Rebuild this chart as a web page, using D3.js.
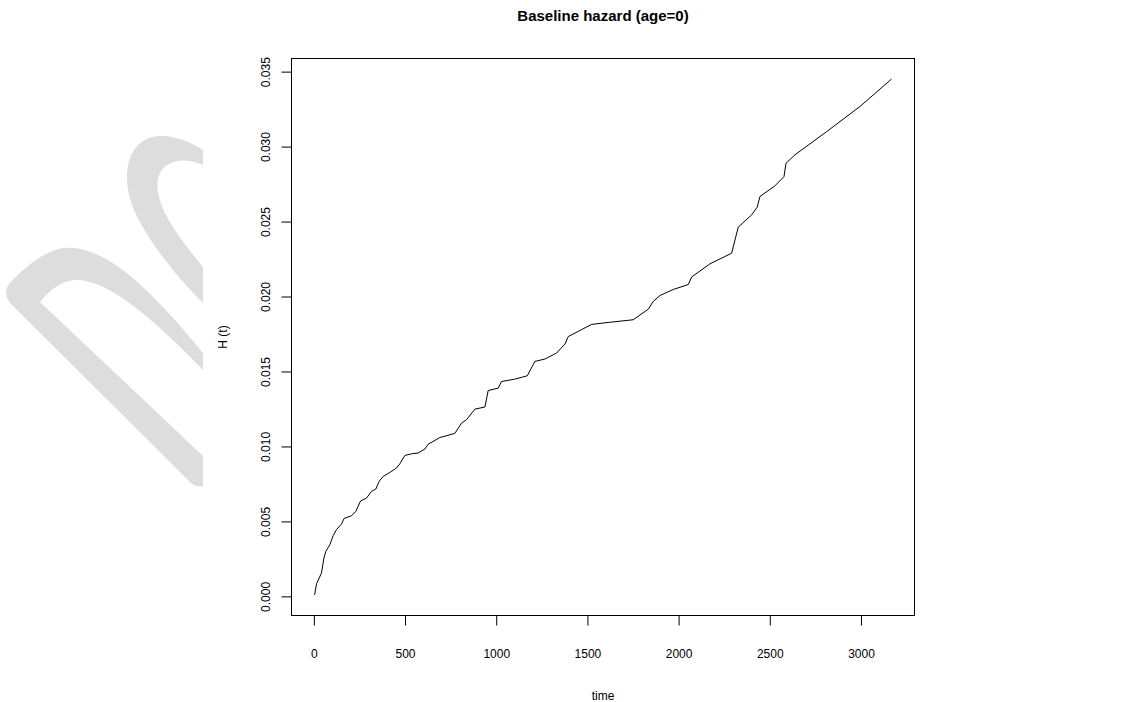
<!DOCTYPE html>
<html>
<head>
<meta charset="utf-8">
<script src="https://cdn.jsdelivr.net/npm/d3@7"></script>
<style>
  html, body { margin: 0; padding: 0; background: #ffffff; }
  svg { display: block; }
  text { font-family: "Liberation Sans", Arial, sans-serif; fill: #000; }
</style>
</head>
<body>
<svg id="chart" width="1135" height="702"></svg>
<script>
// Cumulative baseline hazard H(t) at age = 0
const time = [4, 15, 42, 55, 66, 88, 106, 124, 152, 166, 207, 230, 256, 289, 316, 340,
  358, 380, 417, 453, 472, 499, 536, 572, 609, 627, 654, 691, 709, 773, 810, 837,
  883, 938, 956, 1011, 1029, 1102, 1170, 1212, 1267, 1331, 1377, 1395, 1523, 1614,
  1751, 1834, 1861, 1898, 1971, 2053, 2072, 2172, 2291, 2327, 2401, 2431, 2446,
  2528, 2578, 2589, 2638, 2812, 2994, 3167];
const hazard = [0.0001, 0.00085, 0.00156, 0.00256, 0.0030, 0.00345, 0.00405, 0.00445,
  0.00483, 0.0052, 0.00538, 0.00567, 0.00636, 0.00656, 0.0070, 0.00716, 0.00767,
  0.0080, 0.00827, 0.00856, 0.00885, 0.0094, 0.00951, 0.00956, 0.00983, 0.01015,
  0.01033, 0.0106, 0.01065, 0.01087, 0.01156, 0.01178, 0.01249, 0.01263, 0.01373,
  0.01389, 0.01433, 0.01449, 0.01471, 0.01567, 0.01583, 0.01623, 0.01683, 0.01733,
  0.01814, 0.01827, 0.01845, 0.01916, 0.01967, 0.02007, 0.02047, 0.0208, 0.02131,
  0.02218, 0.02289, 0.02463, 0.02545, 0.02596, 0.02667, 0.02738, 0.028, 0.02889,
  0.02945, 0.031, 0.03267, 0.0345];

const xTicks = [0, 500, 1000, 1500, 2000, 2500, 3000];
const yTicks = [0, 0.005, 0.010, 0.015, 0.020, 0.025, 0.030, 0.035];

const titleText = "Baseline hazard (age=0)";
const xLabel = "time";
const yLabel = "H (t)";

const svg = d3.select("#chart");

// plotting region (base-graphics style box)
const box = { left: 291.5, right: 914.5, top: 58.5, bottom: 615.5 };

// axis limits padded by 4% on each side of the data range
function padded(ext) {
  const r = ext[1] - ext[0];
  return [ext[0] - 0.04 * r, ext[1] + 0.04 * r];
}

const x = d3.scaleLinear().domain(padded(d3.extent(time))).range([box.left, box.right]);
const y = d3.scaleLinear().domain(padded(d3.extent(hazard))).range([box.bottom, box.top]);

// decorative grey mark on the left
const mark = svg.append("g").attr("fill", "#dddddd");
mark.append("path").attr("d",
  "M203,150 C185,138 155,128 138,145 C122,162 124,195 140,222 C155,250 180,280 203,303 " +
  "L203,267 C185,245 165,220 160,200 C155,185 157,172 167,165 C178,158 192,160 203,165 Z");
mark.append("path").attr("d",
  "M203,353 C180,325 150,290 120,268 C95,250 72,244 55,250 C38,256 22,270 10,283 " +
  "C4,290 5,298 12,305 L188,480 C193,486 198,487 203,486 L203,456 L40,302 " +
  "C52,287 65,279 80,280 C110,283 150,315 203,370 Z");

// curve
const pts = time.map((t, i) => [t, hazard[i]]);
svg.append("path")
  .datum(pts)
  .attr("fill", "none")
  .attr("stroke", "#000")
  .attr("stroke-width", 1)
  .attr("d", d3.line().x(d => x(d[0])).y(d => y(d[1])));

// x axis
const gx = svg.append("g")
  .attr("transform", `translate(0,${box.bottom})`)
  .call(d3.axisBottom(x).tickValues(xTicks).tickFormat(d3.format("d"))
    .tickSize(10).tickSizeOuter(0).tickPadding(23.5));
gx.select(".domain").remove();
gx.selectAll("line").attr("stroke", "#000");
gx.selectAll("text").attr("font-size", 12).attr("font-family", null);

// y axis with labels running parallel to the axis
const gy = svg.append("g")
  .attr("transform", `translate(${box.left},0)`)
  .call(d3.axisLeft(y).tickValues(yTicks).tickFormat(d3.format(".3f"))
    .tickSize(10).tickSizeOuter(0));
gy.select(".domain").remove();
gy.selectAll("line").attr("stroke", "#000");
gy.selectAll("text")
  .attr("font-size", 12).attr("font-family", null)
  .attr("x", 0).attr("y", 0).attr("dy", null)
  .attr("text-anchor", "middle")
  .attr("transform", "translate(-22,0) rotate(-90)");

// frame
svg.append("rect")
  .attr("x", box.left).attr("y", box.top)
  .attr("width", box.right - box.left).attr("height", box.bottom - box.top)
  .attr("fill", "none").attr("stroke", "#000").attr("stroke-width", 1);

const cx = (box.left + box.right) / 2;
const cy = (box.top + box.bottom) / 2;

svg.append("text")
  .attr("x", cx).attr("y", 21)
  .attr("text-anchor", "middle")
  .attr("font-size", 15).attr("font-weight", "bold")
  .text(titleText);

svg.append("text")
  .attr("x", cx).attr("y", 700)
  .attr("text-anchor", "middle")
  .attr("font-size", 12)
  .text(xLabel);

svg.append("text")
  .attr("transform", `translate(227,${cy}) rotate(-90)`)
  .attr("text-anchor", "middle")
  .attr("font-size", 12)
  .text(yLabel);
</script>
</body>
</html>
